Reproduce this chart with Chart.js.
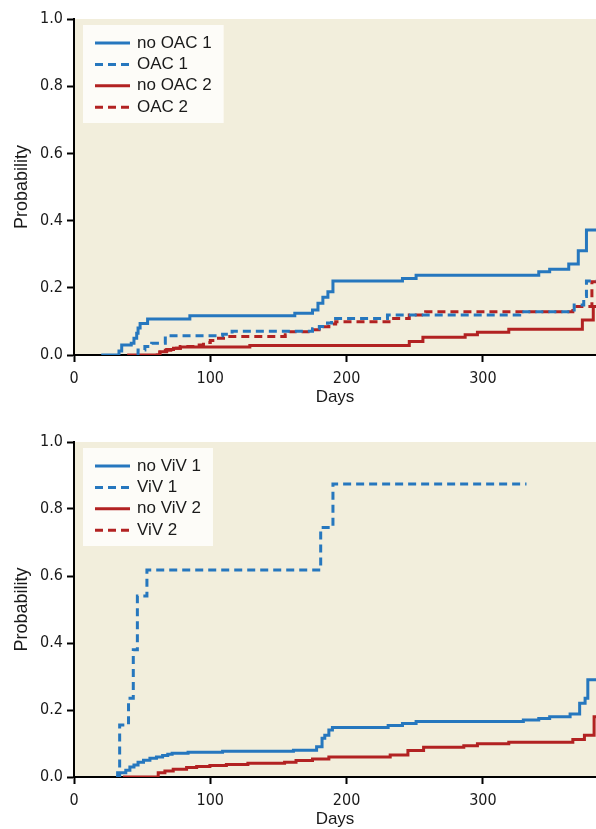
<!DOCTYPE html>
<html>
<head>
<meta charset="utf-8">
<script src="https://cdn.jsdelivr.net/npm/chart.js@4.4.1/dist/chart.umd.min.js"></script>
<style>
  body {margin: 0; background: #fff;}
  #wrap {position: relative; width: 596px; height: 829px;}
  canvas {position: absolute; left: 0;}
  #chartTop {top: 0;}
  #chartBottom {top: 415px;}
</style>
</head>
<body>
<div id="wrap">
  <canvas id="chartTop" width="596" height="415"></canvas>
  <canvas id="chartBottom" width="596" height="414"></canvas>
</div>
<script>
/* Axis setup */
const xTicks = [0, 100, 200, 300];
const yTicks = [0, 0.2, 0.4, 0.6, 0.8, 1.0];
const xMax = 383;

/* Top panel: OAC */
const noOAC1Days = [20, 33, 35, 42, 44, 46, 47, 48.5, 54, 85, 162, 175, 179, 182.6, 186.3, 190, 241, 251, 341, 349, 363, 370, 376, 383];
const noOAC1Prob = [0, 0.012, 0.03, 0.035, 0.05, 0.065, 0.08, 0.094, 0.107, 0.117, 0.124, 0.134, 0.154, 0.172, 0.188, 0.22, 0.228, 0.237, 0.248, 0.255, 0.271, 0.31, 0.372, 0.372];
const OAC1Days = [46, 47, 52, 57, 67, 109, 116, 175, 180, 186, 189, 230, 327, 367, 374, 376, 383];
const OAC1Prob = [0, 0.015, 0.025, 0.035, 0.057, 0.062, 0.071, 0.078, 0.085, 0.095, 0.109, 0.119, 0.129, 0.149, 0.174, 0.22, 0.22];
const noOAC2Days = [39, 63, 68, 73, 78, 129, 246, 256, 287, 296, 319, 373, 381, 383];
const noOAC2Prob = [0, 0.01, 0.016, 0.02, 0.024, 0.028, 0.04, 0.053, 0.06, 0.068, 0.077, 0.104, 0.144, 0.144];
const OAC2Days = [60, 63, 67, 71, 78, 90, 95, 100, 106, 111, 155, 158, 176, 181, 187, 192, 233, 246, 258, 366, 380, 383];
const OAC2Prob = [0, 0.008, 0.014, 0.02, 0.025, 0.03, 0.037, 0.043, 0.05, 0.055, 0.06, 0.069, 0.075, 0.084, 0.092, 0.099, 0.109, 0.119, 0.129, 0.144, 0.218, 0.218];

/* Bottom panel: ViV */
const noViV1Days = [31, 32, 38, 41, 44, 47, 51, 55.7, 60.5, 65, 68.8, 72, 83.7, 109, 161, 178, 182, 184, 187, 189.6, 230.5, 241, 251, 329.7, 341, 349, 364, 371, 375, 377, 383];
const noViV1Prob = [0, 0.013, 0.02, 0.03, 0.036, 0.044, 0.05, 0.056, 0.06, 0.064, 0.068, 0.071, 0.074, 0.077, 0.08, 0.09, 0.116, 0.125, 0.14, 0.148, 0.154, 0.16, 0.166, 0.17, 0.175, 0.18, 0.188, 0.22, 0.235, 0.29, 0.29];
const ViV1Days = [31, 33.5, 40, 43.5, 46.5, 53.5, 181, 190, 332];
const ViV1Prob = [0, 0.155, 0.235, 0.38, 0.54, 0.618, 0.745, 0.875, 0.875];
const noViV2Days = [36, 61.8, 66.7, 72.8, 82.6, 90, 99.7, 111.8, 127.6, 154.5, 162.9, 175, 187, 232, 245, 256.5, 286, 296, 319, 366, 374.5, 381.6, 383];
const noViV2Prob = [0, 0.013, 0.018, 0.023, 0.028, 0.031, 0.034, 0.037, 0.041, 0.044, 0.049, 0.054, 0.06, 0.066, 0.079, 0.089, 0.093, 0.099, 0.104, 0.112, 0.125, 0.18, 0.18];
const ViV2Days = [];
const ViV2Prob = [];

const blue = '#2677BE';
const red = '#B22222';
const dash = [8, 5];
const tickFont = {family: '"Liberation Sans Narrow", "DejaVu Sans Condensed", "Roboto Condensed", sans-serif', size: 16};
const titleFont = {family: '"Liberation Sans", Arial, sans-serif', size: 17};
const yTitleFont = {family: '"Liberation Sans", Arial, sans-serif', size: 18};

function toPoints(days, prob) {
  return days.map((d, i) => ({x: d, y: prob[i]}));
}

function series(label, days, prob, color, dashed) {
  return {
    label: label,
    data: toPoints(days, prob),
    borderColor: color,
    backgroundColor: color,
    borderDash: dashed ? dash : [],
    borderWidth: 3,
    stepped: 'before',
    pointRadius: 0,
    fill: false
  };
}

/* Beige plot background */
const plotBackground = {
  id: 'plotBackground',
  beforeDraw(chart) {
    const {ctx, chartArea} = chart;
    ctx.save();
    ctx.fillStyle = '#F2EEDC';
    ctx.fillRect(chartArea.left, chartArea.top, chartArea.right - chartArea.left, chartArea.bottom - chartArea.top);
    ctx.restore();
  }
};

/* Legend box in the upper left of the plot */
const boxLegend = {
  id: 'boxLegend',
  afterDatasetsDraw(chart) {
    const {ctx, chartArea} = chart;
    const sets = chart.data.datasets;
    ctx.save();
    ctx.font = '17px "Liberation Sans", Arial, sans-serif';
    const textW = Math.max(...sets.map(d => ctx.measureText(d.label).width));
    const x = chartArea.left + 9, y = chartArea.top + 6;
    ctx.fillStyle = '#FDFCF8';
    ctx.fillRect(x, y, 54 + textW + 12, 98);
    sets.forEach((d, i) => {
      const ry = y + 18 + i * 21.4;
      ctx.strokeStyle = d.borderColor;
      ctx.lineWidth = 3;
      ctx.setLineDash(d.borderDash);
      ctx.beginPath();
      ctx.moveTo(x + 12, ry);
      ctx.lineTo(x + 47, ry);
      ctx.stroke();
      ctx.fillStyle = '#1a1a1a';
      ctx.textBaseline = 'middle';
      ctx.fillText(d.label, x + 54, ry);
    });
    ctx.restore();
  }
};

function makeChart(canvas, datasets, padTop, padBottom) {
  return new Chart(canvas, {
    type: 'line',
    data: {datasets: datasets},
    plugins: [plotBackground, boxLegend],
    options: {
      responsive: false,
      animation: false,
      layout: {padding: {top: padTop, bottom: padBottom, left: 0, right: 0}},
      plugins: {legend: {display: false}, tooltip: {enabled: false}},
      scales: {
        x: {
          type: 'linear', min: 0, max: xMax,
          afterBuildTicks: s => {s.ticks = xTicks.map(v => ({value: v}));},
          afterFit: s => {s.height = 52;},
          ticks: {font: tickFont, color: '#1a1a1a', padding: 7, maxRotation: 0},
          grid: {drawOnChartArea: false, tickLength: 7, tickWidth: 2, color: '#000'},
          border: {color: '#000', width: 2},
          title: {display: true, text: 'Days', font: titleFont, color: '#1a1a1a', padding: {top: 0, bottom: -1}}
        },
        y: {
          min: 0, max: 1,
          afterBuildTicks: s => {s.ticks = yTicks.map(v => ({value: v}));},
          afterFit: s => {s.width = 74;},
          ticks: {font: tickFont, color: '#1a1a1a', padding: 4, callback: v => v.toFixed(1)},
          grid: {drawOnChartArea: false, tickLength: 7, tickWidth: 2, color: '#000'},
          border: {color: '#000', width: 2},
          title: {display: true, text: 'Probability', font: yTitleFont, color: '#1a1a1a', padding: {top: 11, bottom: 0}}
        }
      }
    }
  });
}

makeChart(document.getElementById('chartTop'), [
  series('no OAC 1', noOAC1Days, noOAC1Prob, blue, false),
  series('OAC 1', OAC1Days, OAC1Prob, blue, true),
  series('no OAC 2', noOAC2Days, noOAC2Prob, red, false),
  series('OAC 2', OAC2Days, OAC2Prob, red, true)
], 19, 8);

makeChart(document.getElementById('chartBottom'), [
  series('no ViV 1', noViV1Days, noViV1Prob, blue, false),
  series('ViV 1', ViV1Days, ViV1Prob, blue, true),
  series('no ViV 2', noViV2Days, noViV2Prob, red, false),
  series('ViV 2', ViV2Days, ViV2Prob, red, true)
], 27, 0);
</script>
</body>
</html>
